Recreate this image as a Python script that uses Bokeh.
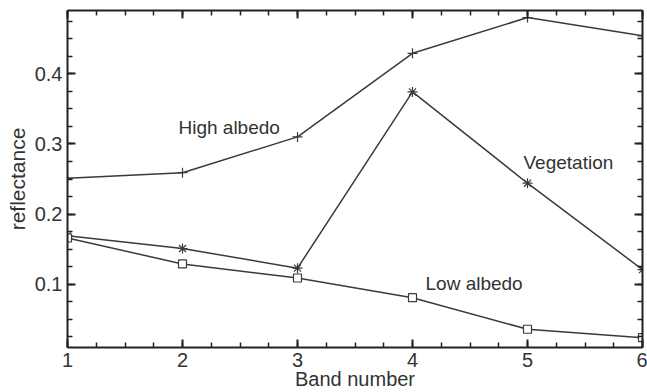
from bokeh.plotting import figure
from bokeh.models import LinearAxis, Label, Range1d, SingleIntervalTicker, CustomJSTickFormatter
from bokeh.embed import file_html
from bokeh.resources import INLINE

# ---- data ----
bands = [1, 2, 3, 4, 5, 6]
high_albedo = [0.251, 0.259, 0.310, 0.429, 0.480, 0.454]
vegetation = [0.169, 0.151, 0.123, 0.374, 0.244, 0.121]
low_albedo = [0.166, 0.129, 0.109, 0.081, 0.036, 0.024]

FONT = "Liberation Sans"
TXT = "#333333"
LINE = "#3a3a3a"
AX = "#222222"

p = figure(width=647, height=392, output_backend="svg", toolbar_location=None,
           x_range=Range1d(1, 6), y_range=Range1d(0.01, 0.49),
           min_border_left=67, min_border_right=5, min_border_top=10, min_border_bottom=40,
           x_axis_label="Band number", y_axis_label="reflectance")
p.grid.visible = False
p.outline_line_color = None
p.background_fill_color = "white"
p.border_fill_color = "white"


def style_axis(ax, labels=True, interval=1.0):
    ax.ticker = SingleIntervalTicker(interval=interval, num_minor_ticks=4)
    ax.axis_line_color = AX
    ax.axis_line_width = 2
    ax.major_tick_in = 8
    ax.major_tick_out = 0
    ax.minor_tick_in = 5
    ax.minor_tick_out = 0
    ax.major_tick_line_color = AX
    ax.major_tick_line_width = 2
    ax.minor_tick_line_color = AX
    ax.minor_tick_line_width = 1.5
    if labels:
        ax.major_label_text_font = FONT
        ax.major_label_text_font_size = "20px"
        ax.major_label_text_color = TXT
        ax.major_label_standoff = 5
        ax.axis_label_text_font = FONT
        ax.axis_label_text_font_size = "20px"
        ax.axis_label_text_font_style = "normal"
        ax.axis_label_text_color = TXT
    else:
        ax.formatter = CustomJSTickFormatter(code="return ''")
        ax.major_label_standoff = 0
        ax.major_label_text_font_size = "0px"


style_axis(p.xaxis[0], True, 1.0)
p.xaxis[0].axis_label_standoff = -2
style_axis(p.yaxis[0], True, 0.1)
p.yaxis[0].axis_label_standoff = 3
p.yaxis[0].axis_label_text_font_size = "21px"

top = LinearAxis()
style_axis(top, False, 1.0)
p.add_layout(top, "above")
right = LinearAxis()
style_axis(right, False, 0.1)
p.add_layout(right, "right")

# ---- series ----
p.line(bands, high_albedo, line_color=LINE, line_width=1.5)
p.scatter(bands, high_albedo, marker="cross", size=10, line_color=LINE, line_width=1.2)

p.line(bands, vegetation, line_color=LINE, line_width=1.5)
p.scatter(bands, vegetation, marker="asterisk", size=10, line_color=LINE, line_width=1.2)

p.line(bands, low_albedo, line_color=LINE, line_width=1.5)
p.scatter(bands, low_albedo, marker="square", size=8, line_color=LINE, line_width=1.2,
          fill_color="white")

# ---- annotations ----
for x, y, t in [(1.965, 0.324, "High albedo"), (4.965, 0.274, "Vegetation"),
                (4.113, 0.101, "Low albedo")]:
    p.add_layout(Label(x=x, y=y, text=t, text_font=FONT, text_font_size="19px",
                       text_color=TXT, text_baseline="alphabetic", text_align="left"))

open("out.html", "w").write(file_html(p, INLINE))
